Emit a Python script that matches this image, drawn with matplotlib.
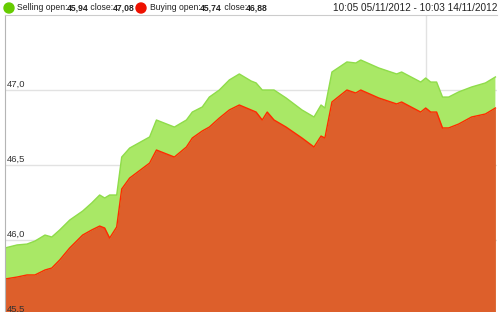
import matplotlib
matplotlib.use("Agg")
from matplotlib import pyplot as plt
from matplotlib.patches import Ellipse

plt.rcParams['font.family'] = ['Liberation Sans', 'DejaVu Sans']

# hours since 10:05 05/11/2012
hours = [0, 5.3, 9.7, 13.2, 17.6, 20.6, 24.1, 28.5, 34.2, 38.2, 41.7, 43.9, 46.1, 49.2,
         51.4, 54.9, 63.7, 66.7, 74.6, 79.9, 82.5, 86.9, 90.0, 94.4, 98.8, 103.2, 108.4,
         110.6, 113.3, 115.5, 118.5, 123.8, 130.8, 136.1, 139.2, 140.9, 144.0, 150.6,
         154.5, 156.7, 164.6, 172.5, 174.7, 183.1, 185.3, 187.5, 190.1, 192.7, 195.4,
         199.8, 205.5, 211.6, 216.0]

selling = [45.947, 45.967, 45.973, 45.993, 46.033, 46.02, 46.067, 46.133, 46.193, 46.247,
           46.30, 46.28, 46.30, 46.30, 46.553, 46.613, 46.687, 46.80, 46.753, 46.80, 46.853,
           46.887, 46.953, 47.0, 47.067, 47.107, 47.06, 47.047, 47.0, 47.0, 47.0, 46.947,
           46.867, 46.82, 46.90, 46.88, 47.12, 47.187, 47.18, 47.20, 47.147, 47.107, 47.12,
           47.053, 47.08, 47.053, 47.053, 46.953, 46.953, 46.987, 47.02, 47.047, 47.087]

buying = [45.74, 45.753, 45.767, 45.767, 45.80, 45.813, 45.867, 45.947, 46.033, 46.067,
          46.093, 46.08, 46.013, 46.087, 46.34, 46.413, 46.513, 46.60, 46.553, 46.62, 46.68,
          46.727, 46.753, 46.813, 46.867, 46.90, 46.867, 46.853, 46.80, 46.853, 46.80,
          46.753, 46.68, 46.62, 46.693, 46.68, 46.92, 47.0, 46.98, 47.0, 46.947, 46.907,
          46.92, 46.853, 46.88, 46.853, 46.853, 46.747, 46.747, 46.773, 46.82, 46.84, 46.88]

y_ticks = [45.5, 46.0, 46.5, 47.0]
y_labels = ["45,5", "46,0", "46,5", "47,0"]
day_mark = [185.3]

fig = plt.figure(figsize=(5, 3.12), dpi=100)
ax = fig.add_axes([0.01, 0.0, 0.984, 297 / 312])

base = 45.0
ax.fill_between(hours, selling, base, color="#a9e866", lw=0)
ax.plot(hours, selling, color="#8fdc4a", lw=1)
ax.fill_between(hours, buying, base, color="#dd5f2b", lw=0)
ax.plot(hours, buying, color="#ff2a00", lw=1)

ax.set_xlim(0, 216.7)
ax.set_ylim(45.52, 47.5)
for v in y_ticks:
    ax.axhline(v, color="#e2e2e2", lw=1, zorder=0.5)
for v in day_mark:
    ax.axvline(v, color="#e2e2e2", lw=1, zorder=0.5)
for v, s in zip(y_ticks, y_labels):
    ax.annotate(s, (0, v), xytext=(1.5, 0.8), textcoords="offset points",
                fontsize=6.8, color="#333333", va="bottom", ha="left",
                annotation_clip=False)

ax.set_xticks([])
ax.set_yticks([])
for side in ["right", "bottom"]:
    ax.spines[side].set_visible(False)
ax.spines["left"].set_color("#b5b5b5")
ax.spines["top"].set_color("#cccccc")

# header with mixed bold text
renderer = fig.canvas.get_renderer()


def write_parts(x_px, y_px, parts, size):
    for txt, weight in parts:
        t = fig.text(x_px / 500, 1 - y_px / 312, txt, fontsize=size, fontweight=weight,
                     va="center", ha="left", color="#222222")
        bb = t.get_window_extent(renderer)
        x_px += bb.width - 0.5


fig.add_artist(Ellipse((9 / 500, 1 - 8 / 312), 10 / 500, 10 / 312,
                       transform=fig.transFigure, color="#66cc00"))
write_parts(17, 8, [("Selling open:", "normal"), ("45,94", "bold"),
                    (" close:", "normal"), ("47,08", "bold")], 6.2)
fig.add_artist(Ellipse((141 / 500, 1 - 8 / 312), 10 / 500, 10 / 312,
                       transform=fig.transFigure, color="#ee1100"))
write_parts(150, 8, [("Buying open:", "normal"), ("45,74", "bold"),
                     (" close:", "normal"), ("46,88", "bold")], 6.2)
fig.text(497 / 500, 1 - 8 / 312, "10:05 05/11/2012 - 10:03 14/11/2012", fontsize=7.2,
         va="center", ha="right", color="#222222")

fig.savefig("out.png", dpi=100)
